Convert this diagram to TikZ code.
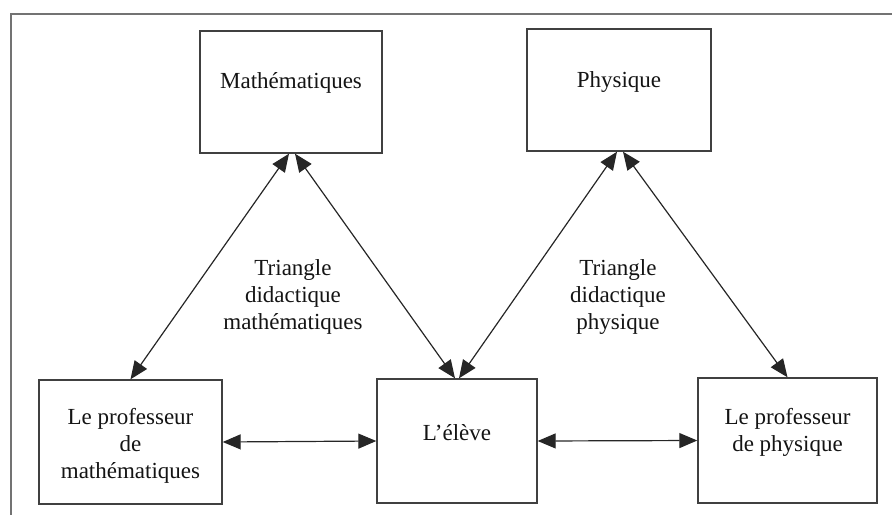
\documentclass[tikz,border=0pt]{standalone}
\usepackage{fontspec}
\setmainfont{Liberation Serif}
\usepackage{tikz}
\usetikzlibrary{arrows.meta,positioning}
\definecolor{linegray}{gray}{0.25}
\definecolor{framegray}{gray}{0.45}
\definecolor{textgray}{gray}{0.08}

\tikzset{
  box/.style={draw=linegray,line width=1.4pt,inner sep=0pt,text=textgray,
    font=\fontsize{23}{27}\selectfont,align=center},
  link/.style={draw=black!85,line width=1.2pt,<->,
    >={Triangle[length=18pt,width=15pt]}},
  tri/.style={text=textgray,font=\fontsize{23}{27}\selectfont,align=center}
}

\begin{document}
\begin{tikzpicture}[x=1pt,y=-1pt]
  % page size in pixels of the reference, y grows downward
  \useasboundingbox (0,0) rectangle (892,515);

  % cropped outer frame (top and left edges only)
  \draw[framegray,line width=1.6pt] (892,14) -| (11,515);

  % the two disciplines
  \node[box,minimum width=182pt,minimum height=122pt,
    label={[tri,yshift=9pt]center:Math\'ematiques}] (math) at (291,92) {};
  \node[box,minimum width=184pt,minimum height=122pt,
    label={[tri,yshift=8pt]center:Physique}] (phys) at (619,90) {};

  % bottom row: teachers and the pupil
  \node[box,minimum width=183pt,minimum height=124pt,
    label={[tri,yshift=-4pt]center:Le professeur\\de\\math\'ematiques}] (profm) at (130.5,442) {};
  \node[box,minimum width=160pt,minimum height=124pt,
    label={[tri,yshift=8pt]center:L'\'el\`eve}] (eleve) at (457,441) {};
  \node[box,minimum width=179pt,minimum height=125pt,
    label={[tri,yshift=8pt]center:Le professeur\\de physique}] (profp) at (787.5,440.5) {};

  % triangle captions
  \node[tri] (trim) at (293,297) {Triangle\\didactique\\math\'ematiques};
  \node[tri] (trip) at (618,297) {Triangle\\didactique\\physique};

  % sides of the two triangles
  \draw[link] ([xshift=-2pt]math.south) -- (profm.north);
  \draw[link] ([xshift=4pt]math.south) -- ([xshift=-2pt]eleve.north);
  \draw[link] ([xshift=-2pt]phys.south) -- ([xshift=2pt]eleve.north);
  \draw[link] ([xshift=4pt]phys.south) -- (profp.north);

  % pupil linked to both teachers
  \draw[link] (profm.east) -- (eleve.west);
  \draw[link] (eleve.east) -- (profp.west);
\end{tikzpicture}
\end{document}
